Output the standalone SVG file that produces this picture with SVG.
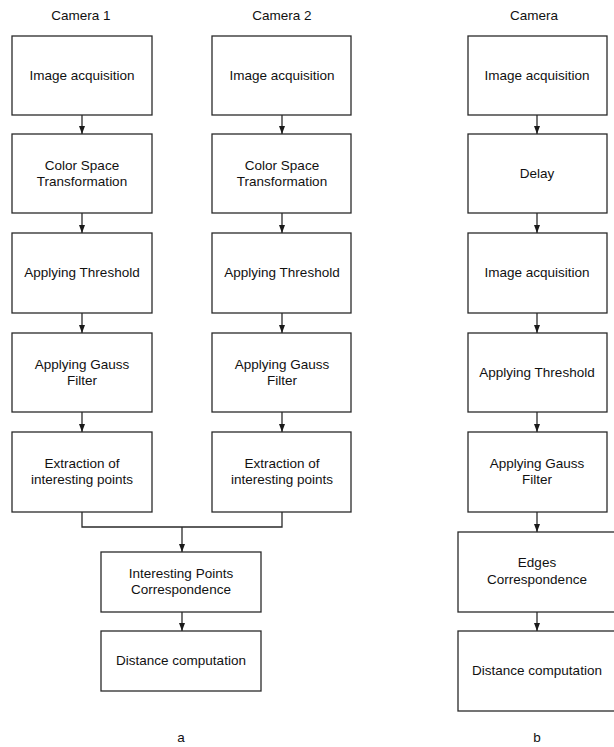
<svg xmlns="http://www.w3.org/2000/svg" width="614" height="747" viewBox="0 0 614 747">
<defs>
<style>
.box{fill:#fff;stroke:#2a2a2a;stroke-width:1.3}
.t{font-family:"Liberation Sans",Arial,sans-serif;font-size:13.5px;fill:#111;text-anchor:middle}
.c{fill:none;stroke:#2a2a2a;stroke-width:1.3}
</style>
<marker id="ah" markerUnits="userSpaceOnUse" markerWidth="8" markerHeight="8" viewBox="0 0 8 8" refX="8" refY="4" orient="auto">
<path d="M0,1 L8,4 L0,7 Z" fill="#1a1a1a"/>
</marker>
</defs>
<rect width="614" height="747" fill="#fff"/>
<g id="titles">
<text class="t" x="81" y="20">Camera 1</text>
<text class="t" x="282" y="20">Camera 2</text>
<text class="t" x="534" y="20">Camera</text>
<text class="t" x="181" y="742">a</text>
<text class="t" x="537" y="742">b</text>
</g>
<g id="L1"><rect class="box" x="12" y="36" width="140" height="79"/><text class="t" x="82" y="80">Image acquisition</text></g>
<g id="L2"><rect class="box" x="12" y="134" width="140" height="79"/><text class="t" x="82" y="170">Color Space</text><text class="t" x="82" y="186">Transformation</text></g>
<g id="L3"><rect class="box" x="12" y="233" width="140" height="80"/><text class="t" x="82" y="277">Applying Threshold</text></g>
<g id="L4"><rect class="box" x="12" y="333" width="140" height="79"/><text class="t" x="82" y="369">Applying Gauss</text><text class="t" x="82" y="385">Filter</text></g>
<g id="L5"><rect class="box" x="12" y="432" width="140" height="80"/><text class="t" x="82" y="468">Extraction of</text><text class="t" x="82" y="484">interesting points</text></g>
<g id="M1"><rect class="box" x="212" y="36" width="139" height="79"/><text class="t" x="282" y="80">Image acquisition</text></g>
<g id="M2"><rect class="box" x="212" y="134" width="139" height="79"/><text class="t" x="282" y="170">Color Space</text><text class="t" x="282" y="186">Transformation</text></g>
<g id="M3"><rect class="box" x="212" y="233" width="139" height="80"/><text class="t" x="282" y="277">Applying Threshold</text></g>
<g id="M4"><rect class="box" x="212" y="333" width="139" height="79"/><text class="t" x="282" y="369">Applying Gauss</text><text class="t" x="282" y="385">Filter</text></g>
<g id="M5"><rect class="box" x="212" y="432" width="139" height="80"/><text class="t" x="282" y="468">Extraction of</text><text class="t" x="282" y="484">interesting points</text></g>
<g id="C1"><rect class="box" x="101" y="552" width="160" height="60"/><text class="t" x="181" y="578">Interesting Points</text><text class="t" x="181" y="594">Correspondence</text></g>
<g id="C2"><rect class="box" x="101" y="631" width="160" height="60"/><text class="t" x="181" y="665">Distance computation</text></g>
<g id="R1"><rect class="box" x="468" y="36" width="139" height="79"/><text class="t" x="537" y="80">Image acquisition</text></g>
<g id="R2"><rect class="box" x="468" y="134" width="139" height="79"/><text class="t" x="537" y="178">Delay</text></g>
<g id="R3"><rect class="box" x="468" y="233" width="139" height="80"/><text class="t" x="537" y="277">Image acquisition</text></g>
<g id="R4"><rect class="box" x="468" y="333" width="139" height="79"/><text class="t" x="537" y="377">Applying Threshold</text></g>
<g id="R5"><rect class="box" x="468" y="432" width="139" height="80"/><text class="t" x="537" y="468">Applying Gauss</text><text class="t" x="537" y="484">Filter</text></g>
<g id="R6"><rect class="box" x="458" y="532" width="170" height="80"/><text class="t" x="537" y="567">Edges</text><text class="t" x="537" y="584">Correspondence</text></g>
<g id="R7"><rect class="box" x="458" y="631" width="170" height="80"/><text class="t" x="537" y="675">Distance computation</text></g>
<g id="connectors">
<path class="c" d="M82,115 V134" marker-end="url(#ah)"/>
<path class="c" d="M82,213 V233" marker-end="url(#ah)"/>
<path class="c" d="M82,313 V333" marker-end="url(#ah)"/>
<path class="c" d="M82,412 V432" marker-end="url(#ah)"/>
<path class="c" d="M282,115 V134" marker-end="url(#ah)"/>
<path class="c" d="M282,213 V233" marker-end="url(#ah)"/>
<path class="c" d="M282,313 V333" marker-end="url(#ah)"/>
<path class="c" d="M282,412 V432" marker-end="url(#ah)"/>
<path class="c" d="M82,512 V527 H282 V512"/>
<path class="c" d="M182,527 V552" marker-end="url(#ah)"/>
<path class="c" d="M182,612 V631" marker-end="url(#ah)"/>
<path class="c" d="M537,115 V134" marker-end="url(#ah)"/>
<path class="c" d="M537,213 V233" marker-end="url(#ah)"/>
<path class="c" d="M537,313 V333" marker-end="url(#ah)"/>
<path class="c" d="M537,412 V432" marker-end="url(#ah)"/>
<path class="c" d="M537,512 V532" marker-end="url(#ah)"/>
<path class="c" d="M537,612 V631" marker-end="url(#ah)"/>
</g>
</svg>
